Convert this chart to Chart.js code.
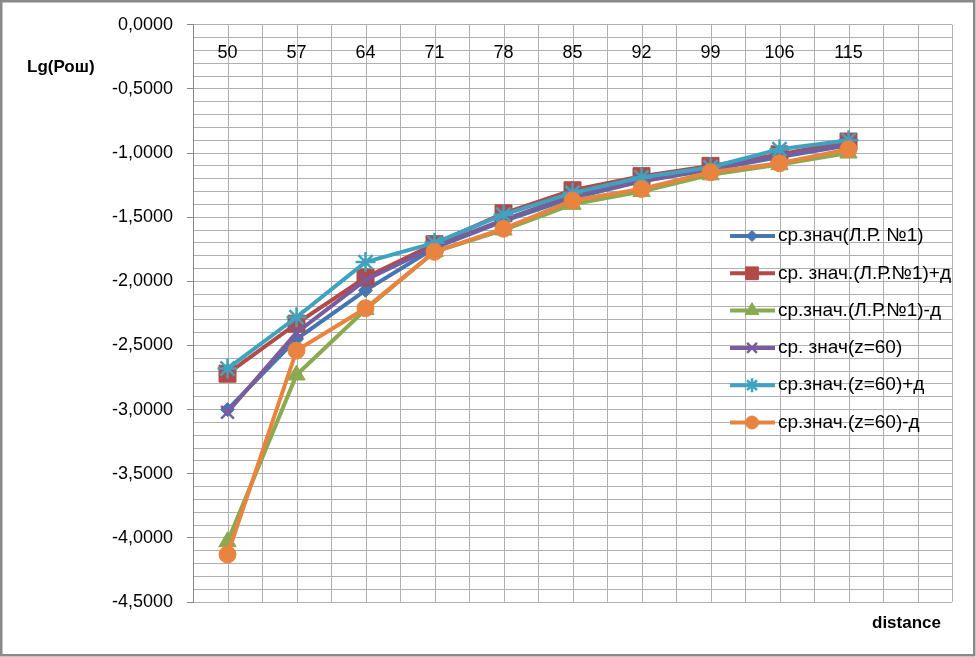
<!DOCTYPE html>
<html>
<head>
<meta charset="utf-8">
<script src="https://cdn.jsdelivr.net/npm/chart.js@4/dist/chart.umd.min.js"></script>
<style>
    body { margin: 0; background: #fff; }
    canvas { display: block; }
</style>
</head>
<body>
<canvas id="lgChart" width="976" height="657"></canvas>
<script>
// categories (distance) - last slot is empty like in the original sheet
const categories = ['50', '57', '64', '71', '78', '85', '92', '99', '106', '115', ''];

const seriesNames = [
    'ср.знач(Л.Р. №1)',
    'ср. знач.(Л.Р.№1)+д',
    'ср.знач.(Л.Р.№1)-д',
    'ср. знач(z=60)',
    'ср.знач.(z=60)+д',
    'ср.знач.(z=60)-д'
];

const avgLR = [-3.00, -2.45, -2.07, -1.74, -1.53, -1.35, -1.22, -1.13, -1.03, -0.94];
const avgLRPlus = [-2.72, -2.33, -1.97, -1.71, -1.47, -1.29, -1.18, -1.10, -1.01, -0.91];
const avgLRMinus = [-4.03, -2.73, -2.22, -1.77, -1.60, -1.40, -1.30, -1.17, -1.09, -1.00];
const avgZ60 = [-3.02, -2.40, -1.99, -1.73, -1.52, -1.33, -1.22, -1.12, -1.02, -0.93];
const avgZ60Plus = [-2.68, -2.28, -1.85, -1.70, -1.48, -1.31, -1.19, -1.11, -0.97, -0.90];
const avgZ60Minus = [-4.13, -2.54, -2.21, -1.77, -1.59, -1.37, -1.28, -1.15, -1.08, -0.97];

const yTicksMajor = [0, -0.5, -1, -1.5, -2, -2.5, -3, -3.5, -4, -4.5];

const seriesData = [avgLR, avgLRPlus, avgLRMinus, avgZ60, avgZ60Plus, avgZ60Minus];
const colors = ['#4675b0', '#b24a47', '#8aaa4f', '#7a5b9c', '#3fa3bf', '#e8843f'];
const markers = ['rectRot', 'rect', 'triangle', 'crossRot', 'star', 'circle'];
const markerSize = [7, 12, 10, 9, 10, 8.5];
const legendMarkerSize = [5.5, 9, 8, 7, 7, 6.5];

const gridColor = '#b0b0b0';
const fontFamily = '"Liberation Sans", Arial, sans-serif';

function isMajor(v) {
    return yTicksMajor.some(t => Math.abs(t - v) < 1e-6);
}

// extra lines through category centres + labels row + titles + legend
const excelLook = {
    id: 'excelLook',
    beforeDatasetsDraw(chart) {
        const { ctx, chartArea, scales } = chart;
        ctx.save();
        ctx.strokeStyle = gridColor;
        ctx.lineWidth = 1;
        categories.forEach((c, i) => {
            const x = Math.round(scales.x.getPixelForValue(i)) + 0.5;
            ctx.beginPath();
            ctx.moveTo(x, chartArea.top);
            ctx.lineTo(x, chartArea.bottom);
            ctx.stroke();
        });
        ctx.restore();
    },
    afterDraw(chart) {
        const { ctx, scales } = chart;
        ctx.save();

        // category labels just under the zero line
        ctx.fillStyle = '#000';
        ctx.font = '18px ' + fontFamily;
        ctx.textAlign = 'center';
        ctx.textBaseline = 'middle';
        categories.forEach((c, i) => {
            ctx.fillText(c, scales.x.getPixelForValue(i), 53);
        });

        // axis titles
        ctx.font = 'bold 17px ' + fontFamily;
        ctx.textAlign = 'left';
        ctx.fillText('Lg(Рош)', 27, 67);
        ctx.fillText('distance', 872, 623);

        // legend
        chart.data.datasets.forEach((ds, i) => {
            const y = 236 + i * 37.3;
            ctx.strokeStyle = ds.borderColor;
            ctx.lineWidth = 4;
            ctx.beginPath();
            ctx.moveTo(730, y);
            ctx.lineTo(775, y);
            ctx.stroke();
            ctx.fillStyle = ds.borderColor;
            ctx.lineWidth = ds.pointBorderWidth;
            Chart.helpers.drawPoint(ctx, {
                pointStyle: ds.pointStyle,
                radius: legendMarkerSize[i],
                borderWidth: ds.pointBorderWidth,
                rotation: 0
            }, 752, y);
            ctx.fillStyle = '#000';
            ctx.font = '19px ' + fontFamily;
            ctx.textBaseline = 'middle';
            ctx.fillText(ds.label, 778, y);
        });

        // outer frame
        ctx.strokeStyle = '#898989';
        ctx.lineWidth = 2.5;
        ctx.strokeRect(1.25, 1.25, 973, 654);
        ctx.restore();
    }
};

const ctxLg = document.getElementById('lgChart').getContext('2d');
const lgChart = new Chart(ctxLg, {
    type: 'line',
    data: {
        labels: categories,
        datasets: seriesData.map((d, i) => ({
            label: seriesNames[i],
            data: d,
            borderColor: colors[i],
            backgroundColor: colors[i],
            borderWidth: 4,
            pointStyle: markers[i],
            pointRadius: markerSize[i],
            pointHoverRadius: markerSize[i],
            pointBackgroundColor: colors[i],
            pointBorderColor: colors[i],
            pointBorderWidth: (markers[i] === 'crossRot' || markers[i] === 'star') ? 2.5 : 1,
            tension: 0,
            fill: false,
            order: 5 - i
        }))
    },
    options: {
        responsive: false,
        animation: false,
        devicePixelRatio: 1,
        layout: {
            padding: { left: 0, top: 24, right: 24, bottom: 55 }
        },
        plugins: {
            legend: { display: false },
            tooltip: { enabled: false }
        },
        scales: {
            x: {
                type: 'category',
                offset: true,
                grid: {
                    offset: true,
                    color: gridColor,
                    drawTicks: false
                },
                border: { display: false },
                ticks: { display: false },
                afterFit(scale) {
                    scale.height = 0;
                }
            },
            y: {
                min: -4.5,
                max: 0,
                grid: {
                    color: gridColor,
                    tickLength: 6,
                    tickColor: (c) => (c.tick && isMajor(c.tick.value)) ? '#868686' : 'rgba(0,0,0,0)'
                },
                border: { display: true, color: '#868686' },
                ticks: {
                    stepSize: 0.1,
                    autoSkip: false,
                    padding: 14,
                    color: '#000',
                    font: { family: fontFamily, size: 18 },
                    callback: (v) => isMajor(v) ? v.toFixed(4).replace('.', ',').replace(/^-0,0000$/, '0,0000') : ''
                },
                afterFit(scale) {
                    scale.width = 193;
                }
            }
        }
    },
    plugins: [excelLook]
});
</script>
</body>
</html>
